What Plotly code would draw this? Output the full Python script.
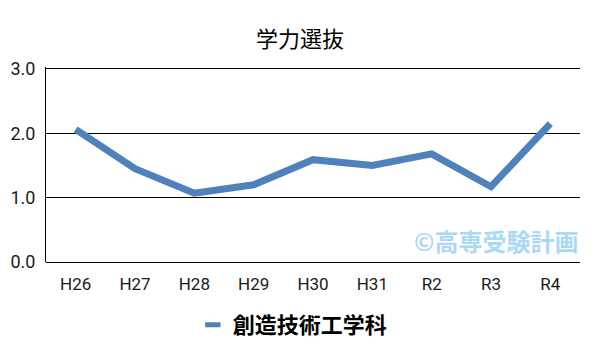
import plotly.graph_objects as go

categories = ["H26", "H27", "H28", "H29", "H30", "H31", "R2", "R3", "R4"]
values = [2.06, 1.45, 1.07, 1.20, 1.59, 1.50, 1.68, 1.17, 2.15]
series_name = "創造技術工学科"
y_ticks = [0, 1, 2, 3]
y_tick_labels = ["0.0", "1.0", "2.0", "3.0"]

fig = go.Figure()
fig.add_trace(go.Scatter(
    x=categories, y=values, mode="lines", name=series_name, showlegend=False,
    line=dict(color="#4f81bd", width=7),
))
# legend entry with a short thick line symbol
fig.add_trace(go.Scatter(
    x=[None], y=[None], mode="markers", name=series_name, showlegend=True,
    marker=dict(symbol="line-ew", size=11, color="#4f81bd",
                line=dict(color="#4f81bd", width=5)),
))

fig.update_layout(
    width=600, height=360,
    margin=dict(l=46, r=20, t=67, b=98, autoexpand=False),
    paper_bgcolor="white", plot_bgcolor="white",
    font=dict(family="Roboto, 'Noto Sans CJK JP', sans-serif", color="#1a1a1a"),
    title=dict(text="学力選抜", x=0.5, xanchor="center", yref="container", y=1 - 39 / 360, yanchor="middle",
               font=dict(size=22, family="'Noto Sans CJK JP', sans-serif", color="#000")),
    showlegend=True,
    legend=dict(orientation="h", x=0.275, xanchor="left", yref="container", y=35 / 360, yanchor="middle",
                font=dict(size=22, family="'Noto Sans CJK JP', sans-serif", color="#000", weight="bold"),
                itemwidth=30),
    xaxis=dict(showgrid=False, showline=False, ticks="", tickfont=dict(size=17), automargin=False,
               ticklabelstandoff=10, range=[-0.5, len(categories) - 0.5]),
    yaxis=dict(range=[0, 3.03], tickvals=y_ticks, ticktext=y_tick_labels, automargin=False,
               showgrid=True, gridcolor="#000000", gridwidth=1,
               showline=True, linecolor="#000000", linewidth=1,
               zeroline=True, zerolinecolor="#000000", zerolinewidth=1,
               ticks="", ticklabelstandoff=6, tickfont=dict(size=18)),
    annotations=[dict(text="©高専受験計画", xref="paper", yref="paper", x=1.0, y=0.11,
                      xanchor="right", yanchor="middle", showarrow=False,
                      font=dict(size=24, color="#a9d9f5", family="'Noto Sans CJK JP', sans-serif", weight="bold"))],
)

fig.write_html("out.html", config={"displayModeBar": False},
               post_script="document.body.style.margin='0';document.body.style.overflow='hidden';")
